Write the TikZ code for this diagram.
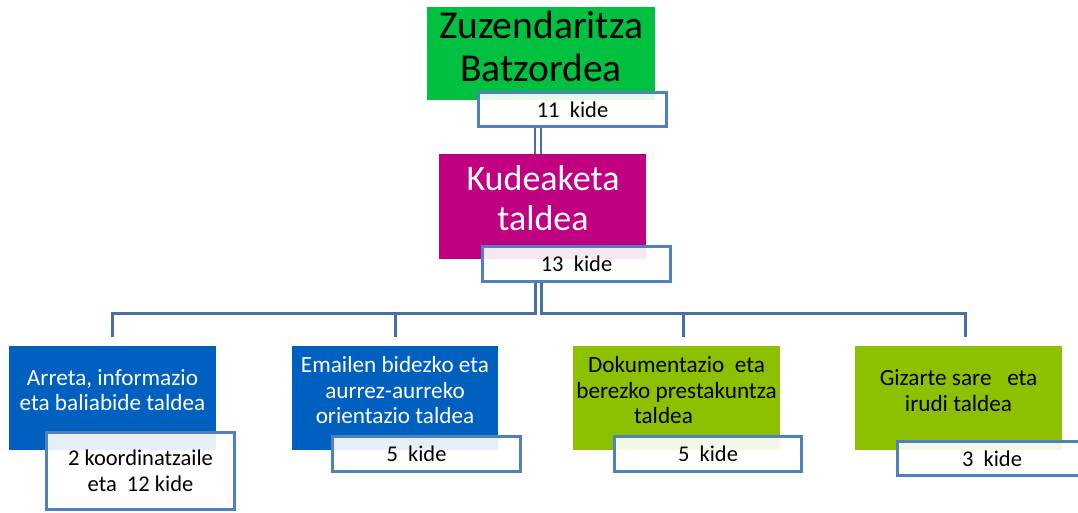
\documentclass[tikz,border=0pt]{standalone}
\usepackage{fontspec}
\setmainfont{Carlito}
\definecolor{topgreen}{RGB}{0,192,64}
\definecolor{mag}{RGB}{192,0,128}
\definecolor{offblue}{RGB}{0,96,192}
\definecolor{olive}{RGB}{140,192,0}
\definecolor{kborder}{RGB}{79,129,189}
\definecolor{connc}{RGB}{72,112,162}
\tikzset{
  colbox/.style={rectangle, inner sep=0pt, draw=none},
  kidebox/.style={rectangle, draw=kborder, line width=3pt, fill=white, fill opacity=0.9, text opacity=1, draw opacity=1, inner sep=0pt, font=\fontsize{22.5}{26}\selectfont, align=center, text=black},
  conn/.style={draw=connc, line width=3pt},
  bigtxt/.style={inner sep=0pt, align=center, font=\fontsize{39.5}{43}\selectfont},
  midtxt/.style={inner sep=0pt, align=center, font=\fontsize{23.2}{25.5}\selectfont},
}
\begin{document}
\begin{tikzpicture}[x=1pt,y=-1pt]
\useasboundingbox (0,0) rectangle (1078,513);
\clip (0,0) rectangle (1078,513);
% coloured boxes
\node[colbox, fill=topgreen, minimum width=228pt, minimum height=93pt] (zb) at (541,53.5) {};
\node[colbox, fill=mag, minimum width=207pt, minimum height=105pt] (kt) at (542.5,206.5) {};
\node[colbox, fill=offblue, minimum width=207pt, minimum height=104pt] (g1) at (112.5,398) {};
\node[colbox, fill=offblue, minimum width=206pt, minimum height=104pt] (g2) at (395,398) {};
\node[colbox, fill=olive, minimum width=207pt, minimum height=104pt] (g3) at (676.5,398) {};
\node[colbox, fill=olive, minimum width=207pt, minimum height=104pt] (g4) at (958.5,398) {};
% texts of coloured boxes
\node[bigtxt] (zbt) at (541,46.5) {Zuzendaritza\\Batzordea};
\node[bigtxt, text=white, font=\fontsize{36}{40.5}\selectfont] (ktt) at (543,198) {Kudeaketa\\taldea};
\node[midtxt, text=white] (g1t) at (112.5,390) {Arreta, informazio\\eta baliabide taldea};
\node[midtxt, text=white] (g2t) at (395,390.5) {Emailen bidezko eta\\aurrez-aurreko\\orientazio taldea};
\node[midtxt, text=black] (g3t) at (676.5,390.5) {Dokumentazio\ \ eta\\berezko prestakuntza\\taldea\hspace*{26pt}};
\node[midtxt, text=black] (g4t) at (958.5,390.5) {Gizarte sare\ \ \ eta\\irudi taldea};
% kide boxes
\node[kidebox, minimum width=188pt, minimum height=34pt] (k11) at (572.5,109.5) {11\ \ kide};
\node[kidebox, minimum width=188pt, minimum height=35pt] (k13) at (576.5,264) {13\ \ kide};
\node[kidebox, minimum width=188pt, minimum height=77pt] (g1k) at (140.5,471) {2 koordinatzaile\\eta\ \ 12 kide};
\node[kidebox, minimum width=188pt, minimum height=35pt] (g2k) at (426.5,454) {5\ \ kide\hspace*{20pt}};
\node[kidebox, minimum width=187pt, minimum height=35pt] (g3k) at (708,454) {5\ \ kide};
\node[kidebox, minimum width=189pt, minimum height=34pt] (g4k) at (992,458.5) {3\ \ kide};
% connectors
\coordinate (j) at (538,313);
\coordinate (d1) at ([yshift=9pt]g1.north);
\coordinate (d2) at ([yshift=9pt]g2.north);
\coordinate (d3) at ([xshift=6.5pt,yshift=9pt]g3.north);
\coordinate (d4) at ([xshift=6.5pt,yshift=9pt]g4.north);
\draw[conn, line width=2.3pt] ([xshift=-3pt]j |- k11.south) -- ([xshift=-3pt]j |- kt.north);
\draw[conn, line width=2.3pt] ([xshift=3pt]j |- k11.south) -- ([xshift=3pt]j |- kt.north);
\draw[conn] ([xshift=-3pt]j |- k13.south) -- ([xshift=-3pt]j) -| (d1);
\draw[conn] ([xshift=3pt]j |- k13.south) -- ([xshift=3pt]j) -| (d4);
\draw[conn] (d2 |- j) -- (d2);
\draw[conn] (d3 |- j) -- (d3);
\end{tikzpicture}
\end{document}
